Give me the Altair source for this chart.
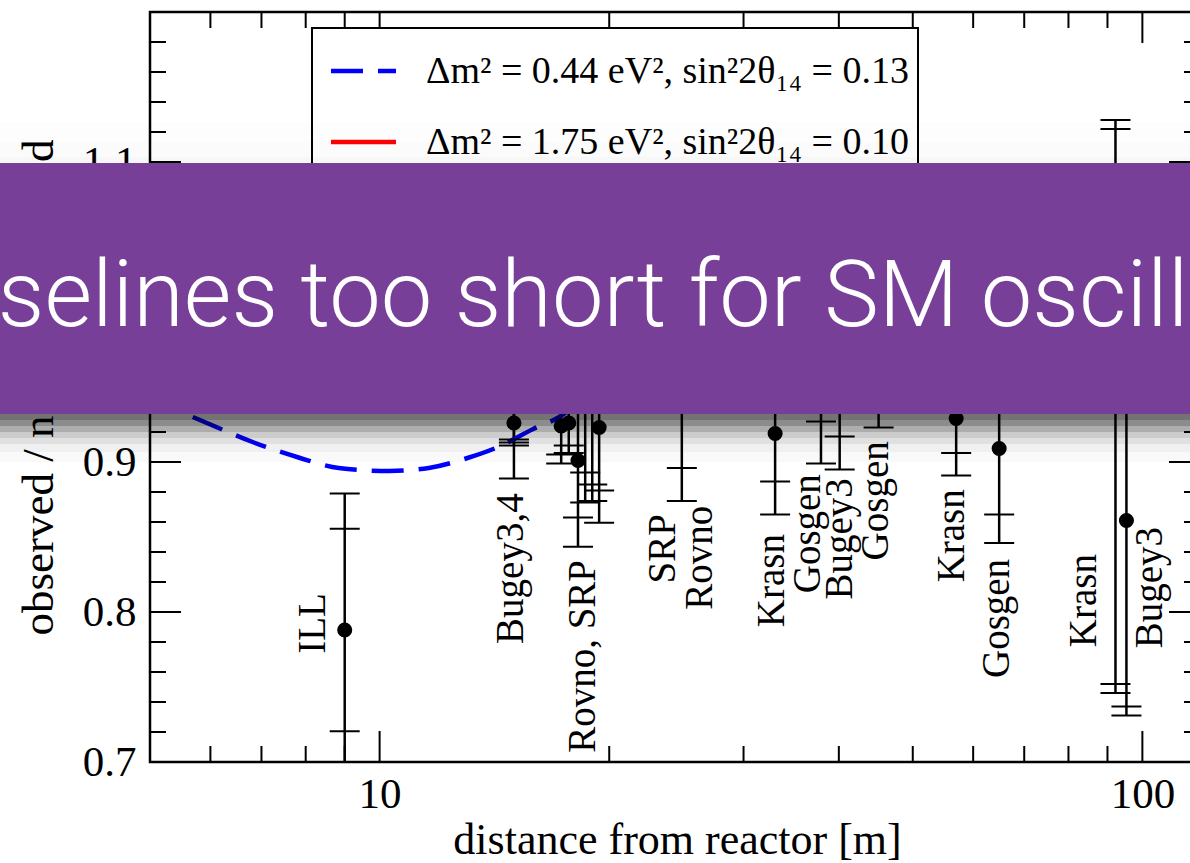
import altair as alt
import pandas as pd

# ---------------- values ----------------
SITE = ["ILL", "Bugey4", "Bugey3", "Rovno91", "SRP I", "Rovno88-1I", "Rovno88-2I",
        "Rovno88-1S", "Rovno88-3S", "SRP II", "Rovno88-2S", "Krasn I", "Gosgen I",
        "Bugey3 II", "Gosgen II", "Krasn III", "Gosgen III", "Krasn II", "Bugey3 III"]
DIST = [9.0, 15.0, 15.0, 17.3, 17.7, 18.2, 18.6, 19.0, 19.4, 24.9, 24.9, 33.0, 37.9,
        40.1, 45.1, 57.0, 64.9, 92.2, 95.3]
RATIO = [0.788, 0.926, 0.944, 0.924, 0.926, 0.901, 0.938, 0.940, 0.923, 0.998, 0.996,
         0.919, 0.966, 0.952, 0.976, 0.929, 0.909, 0.937, 0.861]
ERR_IN = [0.0675, 0.011, 0.031, 0.019, 0.015, 0.038, 0.045, 0.055, 0.042, 0.040, 0.100,
          0.032, 0.039, 0.035, 0.030, 0.023, 0.044, 0.185, 0.124]
ERR_OUT = [0.091, 0.037, 0.033, 0.025, 0.020, 0.0575, 0.065, 0.066, 0.0635, 0.060, 0.122,
           0.054, 0.067, 0.057, 0.053, 0.038, 0.063, 0.191, 0.130]

LABEL_TEXT = ["ILL", "Bugey3,4", "Rovno, SRP", "SRP", "Rovno", "Krasn", "Gosgen", "Bugey3",
              "Gosgen", "Krasn", "Gosgen", "Krasn", "Bugey3"]
LABEL_X = [8.17, 14.85, 18.45, 23.49, 26.27, 32.74, 36.39, 40.08, 44.81, 56.36, 64.55, 83.94, 102.45]
LABEL_Y = [0.7924, 0.8289, 0.7704, 0.8422, 0.8362, 0.8209, 0.8522, 0.8488, 0.8741, 0.8508,
           0.7957, 0.8076, 0.8163]

BLUE_X = [5.0, 5.4, 5.75, 6.0, 6.84, 7.83, 8.84, 10.3, 11.6, 13.1, 14.3, 15.9, 17.2, 19.0,
          22.0, 26.0, 30.0, 34.0, 40.0, 50.0, 60.0, 80.0, 100.0, 119.0]
BLUE_Y = [0.943, 0.935, 0.929, 0.925, 0.913, 0.903, 0.896, 0.894, 0.896, 0.903, 0.910, 0.922,
          0.930, 0.948, 0.972, 0.978, 0.965, 0.955, 0.958, 0.962, 0.952, 0.948, 0.946, 0.946]
RED_X = [5.0, 6.0, 7.0, 8.0, 10.0, 12.0, 15.0, 20.0, 30.0, 50.0, 80.0, 119.0]
RED_Y = [0.945, 0.952, 0.948, 0.953, 0.950, 0.951, 0.950, 0.950, 0.950, 0.950, 0.950, 0.950]

X_TICK_LABELS = [10, 100]
Y_TICK_LABELS = [0.7, 0.8, 0.9, 1.0, 1.1]
X_MAJOR_TICKS = [10, 100]
X_MINOR_TICKS = [6, 7, 8, 9, 20, 30, 40, 50, 60, 70, 80, 90]
Y_MAJOR_TICKS = [0.8, 0.9, 1.0, 1.1]
Y_MINOR_TICKS = [0.72, 0.74, 0.76, 0.78, 0.82, 0.84, 0.86, 0.88, 0.92, 0.94, 0.96, 0.98,
                 1.02, 1.04, 1.06, 1.08, 1.12, 1.14, 1.16, 1.18]

LEGEND_1 = "Δm² = 0.44 eV², sin²2θ₁₄ = 0.13"
LEGEND_2 = "Δm² = 1.75 eV², sin²2θ₁₄ = 0.10"
BANNER_TEXT = "Baselines too short for SM oscillations"
X_TITLE = "distance from reactor [m]"
Y_TITLE = "observed / no osc. expected"

# ---------------- style ----------------
W, H = 1050, 750
PAD = {"left": 150, "top": 12, "right": -10, "bottom": 101}
SERIF = "Liberation Serif"
PURPLE = "#773f98"
SHADOW_BANDS = [(402, 408, 0.55), (408, 414, 0.45), (414, 420, 0.32), (420, 426, 0.2),
                (426, 432, 0.12), (432, 440, 0.06), (440, 450, 0.025)]
GLOW_BANDS = [(110, 130, 0.008), (130, 145, 0.015), (145, 151, 0.03)]

xs = alt.Scale(type="log", domain=[5, 119], nice=False)
ys = alt.Scale(domain=[0.7, 1.2], nice=False, zero=False)

x_axis = alt.Axis(values=X_TICK_LABELS, format="d", domain=False, ticks=False, tickSize=0,
                  grid=False, labelFont=SERIF, labelFontSize=43, labelColor="black",
                  labelPadding=11, labelFlush=False, labelOverlap=False,
                  title=X_TITLE, titleFont=SERIF, titleFontSize=44, titleFontWeight="normal",
                  titleColor="black", titleX=527, titleY=91, titleAlign="center",
                  titleBaseline="alphabetic")
y_axis = alt.Axis(values=Y_TICK_LABELS, format=".1f", domain=False, ticks=False, tickSize=0,
                  grid=False, labelFont=SERIF, labelFontSize=43, labelColor="black",
                  labelPadding=14, labelFlush=False, labelOverlap=False,
                  title=Y_TITLE, titleFont=SERIF, titleFontSize=45, titleFontWeight="normal",
                  titleColor="black", titleAngle=270, titleX=-98, titleY=623,
                  titleAlign="left", titleBaseline="alphabetic")


def X(field):
    return alt.X(f"{field}:Q", scale=xs, axis=x_axis, title=X_TITLE)


def Y(field):
    return alt.Y(f"{field}:Q", scale=ys, axis=y_axis, title=Y_TITLE)


pts = pd.DataFrame({"site": SITE, "dist": DIST, "ratio": RATIO, "ein": ERR_IN, "eout": ERR_OUT})
pts["lo"] = pts["ratio"] - pts["eout"]
pts["hi"] = pts["ratio"] + pts["eout"]
caps = pd.concat([
    pd.DataFrame({"dist": pts["dist"], "cap": pts["ratio"] - pts["ein"]}),
    pd.DataFrame({"dist": pts["dist"], "cap": pts["ratio"] + pts["ein"]}),
    pd.DataFrame({"dist": pts["dist"], "cap": pts["ratio"] - pts["eout"]}),
    pd.DataFrame({"dist": pts["dist"], "cap": pts["ratio"] + pts["eout"]}),
], ignore_index=True)
labels = pd.DataFrame({"t": LABEL_TEXT, "x": LABEL_X, "y": LABEL_Y})
blue = pd.DataFrame({"d": BLUE_X, "r": BLUE_Y})
red = pd.DataFrame({"d": RED_X, "r": RED_Y})
one = pd.DataFrame({"k": [0]})

layers = []


def xticks(vals, length):
    df = pd.DataFrame({"v": vals})
    b = alt.Chart(df).mark_rule(color="black", strokeWidth=2).encode(
        x=X("v"), y=alt.value(H), y2=alt.value(H - length))
    t = alt.Chart(df).mark_rule(color="black", strokeWidth=2).encode(
        x=X("v"), y=alt.value(0), y2=alt.value(length))
    return [b, t]


def yticks(vals, length):
    df = pd.DataFrame({"v": vals})
    l = alt.Chart(df).mark_rule(color="black", strokeWidth=2).encode(
        y=Y("v"), x=alt.value(0), x2=alt.value(length))
    r = alt.Chart(df).mark_rule(color="black", strokeWidth=2).encode(
        y=Y("v"), x=alt.value(W), x2=alt.value(W - length))
    return [l, r]


bars = alt.Chart(pts).mark_rule(color="black", strokeWidth=2.5, clip=True).encode(
    x=X("dist"), y=Y("lo"), y2=alt.Y2("hi"))
layers.append(bars)
layers += xticks(X_MAJOR_TICKS, 31) + xticks(X_MINOR_TICKS, 16)
layers += yticks(Y_MAJOR_TICKS, 31) + yticks(Y_MINOR_TICKS, 16)

layers.append(alt.Chart(red).mark_line(color="#ff0000", strokeWidth=4.5, interpolate="monotone",
                                       clip=True).encode(x=X("d"), y=Y("r")))
layers.append(alt.Chart(blue).mark_line(color="#0000ff", strokeWidth=4.5, strokeDash=[32, 15],
                                        interpolate="monotone", clip=True).encode(x=X("d"), y=Y("r")))
layers.append(alt.Chart(caps).mark_rule(color="black", strokeWidth=2, clip=True,
                                        xOffset=-15, x2Offset=15).encode(
    x=X("dist"), x2=alt.X2("dist"), y=Y("cap")))
layers.append(alt.Chart(pts).mark_circle(size=227, color="black", opacity=1, clip=True).encode(
    x=X("dist"), y=Y("ratio")))
layers.append(alt.Chart(labels).mark_text(angle=270, font=SERIF, fontSize=39, align="center",
                                          baseline="middle", color="black").encode(
    x=X("x"), y=Y("y"), text="t:N"))

# legend box
layers.append(alt.Chart(one).mark_rect(fill="white", stroke="black", strokeWidth=2).encode(
    x=alt.value(162), x2=alt.value(768), y=alt.value(16), y2=alt.value(190)))
layers.append(alt.Chart(one).mark_rule(color="#0000ff", strokeWidth=4.5, strokeDash=[32, 15]).encode(
    x=alt.value(181), x2=alt.value(246), y=alt.value(59)))
layers.append(alt.Chart(one).mark_rule(color="#ff0000", strokeWidth=4.5).encode(
    x=alt.value(181), x2=alt.value(246), y=alt.value(130)))
layers.append(alt.Chart(one).mark_text(font=SERIF, fontSize=38, align="left", baseline="alphabetic",
                                       color="black").encode(
    x=alt.value(276), y=alt.value(71), text=alt.value(LEGEND_1)))
layers.append(alt.Chart(one).mark_text(font=SERIF, fontSize=38, align="left", baseline="alphabetic",
                                       color="black").encode(
    x=alt.value(276), y=alt.value(142), text=alt.value(LEGEND_2)))

# banner with shadow
for y0, y1, op in GLOW_BANDS + SHADOW_BANDS:
    layers.append(alt.Chart(one).mark_rect(color="black", opacity=op).encode(
        x=alt.value(-150), x2=alt.value(W), y=alt.value(y0), y2=alt.value(y1)))
layers.append(alt.Chart(one).mark_rect(color=PURPLE, opacity=1).encode(
    x=alt.value(-150), x2=alt.value(W), y=alt.value(151), y2=alt.value(402)))
layers.append(alt.Chart(one).mark_text(font="Roboto", fontWeight=300, fontSize=92, align="left",
                                       baseline="alphabetic", color="white").encode(
    x=alt.value(-258), y=alt.value(314), text=alt.value(BANNER_TEXT)))

chart = alt.layer(*layers).properties(
    width=W, height=H, padding=PAD, autosize=alt.AutoSizeParams(type="none"),
    background="white"
).configure_view(stroke="black", strokeWidth=2.5)

chart.save("out.html", embed_options={"renderer": "svg", "actions": False})
